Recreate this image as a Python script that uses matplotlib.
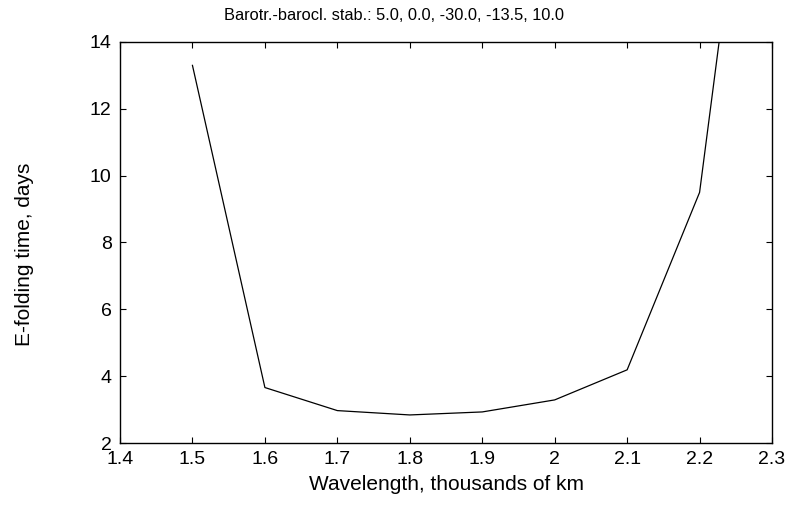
import matplotlib
matplotlib.use("Agg")
import matplotlib.pyplot as plt

plt.rcParams['font.family'] = ['Liberation Sans', 'DejaVu Sans']

# Wavelength (thousands of km) and e-folding time (days)
wavelength = [1.5, 1.6, 1.7, 1.8, 1.9, 2.0, 2.1, 2.2, 2.3]
efold_days = [13.3, 3.66, 2.97, 2.84, 2.93, 3.29, 4.19, 9.5, 26.2]

xticks = [1.4, 1.5, 1.6, 1.7, 1.8, 1.9, 2.0, 2.1, 2.2, 2.3]
xticklabels = ['1.4', '1.5', '1.6', '1.7', '1.8', '1.9', '2', '2.1', '2.2', '2.3']
yticks = [2, 4, 6, 8, 10, 12, 14]

fig = plt.figure(figsize=(7.89, 5.07), dpi=100)
ax = fig.add_axes([0.1521, 0.1262, 0.8264, 0.791])

ax.plot(wavelength, efold_days, color='black', linewidth=0.9)
ax.set_xlim(1.4, 2.3)
ax.set_ylim(2, 14)
ax.set_xticks(xticks)
ax.set_xticklabels(xticklabels)
ax.set_yticks(yticks)
ax.tick_params(direction='in', length=4, width=0.8, top=True, right=True,
               labelsize=14, pad=6)
for s in ax.spines.values():
    s.set_linewidth(1.0)

ax.set_xlabel('Wavelength, thousands of km', fontsize=15, labelpad=5)
ax.set_ylabel('E-folding time, days', fontsize=15)
ax.yaxis.set_label_coords(-0.132, 0.47)
fig.text(0.5, 0.985, 'Barotr.-barocl. stab.: 5.0, 0.0, -30.0, -13.5, 10.0',
         ha='center', va='top', fontsize=11.8)

fig.savefig('out.png', dpi=100)
